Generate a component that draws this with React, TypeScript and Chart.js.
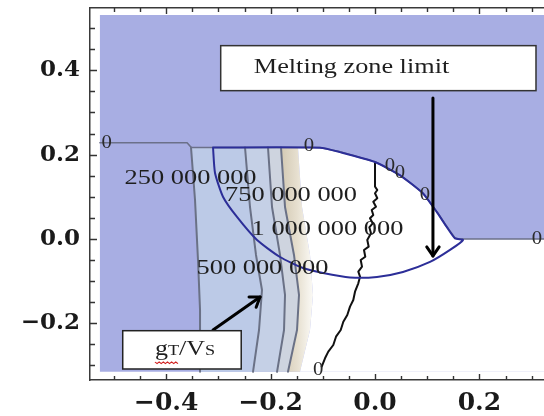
import React, { useEffect, useRef } from 'react';
import { Chart, registerables } from 'chart.js';

Chart.register(...registerables);

type P = { x: number; y: number };

// axis ticks and ranges
const xTicks = [-0.4, -0.2, 0.0, 0.2];
const yTicks = [-0.2, 0.0, 0.2, 0.4];
const xRange = [-0.546, 0.3544];
const yRange = [-0.3344, 0.5477];
const fieldX = [-0.527, 0.4];
const fieldY = [-0.315, 0.531];

// contour lines of gT/Vs
const contour250: P[] = [
  { x: -0.3525, y: 0.217 }, { x: -0.3448, y: 0.0925 }, { x: -0.3391, y: -0.0498 },
  { x: -0.3352, y: -0.1684 }, { x: -0.3352, y: -0.315 },
];
const contour500: P[] = [
  { x: -0.249, y: 0.217 }, { x: -0.2395, y: 0.0759 }, { x: -0.228, y: -0.0379 },
  { x: -0.2165, y: -0.1209 }, { x: -0.2222, y: -0.2158 }, { x: -0.2337, y: -0.315 },
];
const contour750: P[] = [
  { x: -0.205, y: 0.217 }, { x: -0.1973, y: 0.0759 }, { x: -0.182, y: -0.0379 },
  { x: -0.1724, y: -0.1328 }, { x: -0.1743, y: -0.2158 }, { x: -0.1877, y: -0.315 },
];
const contour1000: P[] = [
  { x: -0.1801, y: 0.217 }, { x: -0.1724, y: 0.0759 }, { x: -0.1552, y: -0.0379 },
  { x: -0.1456, y: -0.1328 }, { x: -0.1494, y: -0.2158 }, { x: -0.1667, y: -0.315 },
];
const beigeEdge: P[] = [
  { x: -0.1475, y: 0.217 }, { x: -0.1398, y: 0.0759 }, { x: -0.1245, y: -0.0379 },
  { x: -0.1188, y: -0.1328 }, { x: -0.1245, y: -0.2158 }, { x: -0.1437, y: -0.315 },
];

// zero contour
const zeroLeft: P[] = [{ x: -0.527, y: 0.228 }, { x: -0.36, y: 0.228 }, { x: -0.352, y: 0.217 }];
const zeroArc: P[] = [
  { x: -0.1054, y: 0.217 }, { x: -0.067, y: 0.207 }, { x: 0, y: 0.1833 }, { x: 0.0479, y: 0.1518 },
  { x: 0.092, y: 0.109 }, { x: 0.1188, y: 0.064 }, { x: 0.138, y: 0.0285 }, { x: 0.1533, y: 0.0024 },
];
const zeroRight: P[] = [{ x: 0.16, y: 0 }, { x: 0.4, y: 0 }];

// melting zone limit
const meltTop: P[] = [
  { x: -0.3103, y: 0.217 }, { x: -0.1054, y: 0.2165 }, { x: -0.067, y: 0.206 }, { x: 0, y: 0.1825 },
  { x: 0.0479, y: 0.151 }, { x: 0.092, y: 0.108 }, { x: 0.1188, y: 0.063 }, { x: 0.138, y: 0.0275 },
  { x: 0.1533, y: 0.0015 }, { x: 0.1686, y: -0.0024 },
];
const meltBottom: P[] = [
  { x: 0.1437, y: -0.026 }, { x: 0.1054, y: -0.0545 }, { x: 0.0536, y: -0.0783 }, { x: 0.0038, y: -0.0901 },
  { x: -0.0479, y: -0.0913 }, { x: -0.0996, y: -0.0806 }, { x: -0.138, y: -0.0688 }, { x: -0.182, y: -0.0427 },
  { x: -0.226, y: -0.0024 }, { x: -0.2644, y: 0.0522 }, { x: -0.291, y: 0.0996 }, { x: -0.3065, y: 0.1565 },
  { x: -0.3103, y: 0.217 },
];

// jagged black line
const blackLine: P[] = [
  { x: 0.0, y: 0.1795 }, { x: 0.0, y: 0.124 }, { x: 0.0044, y: 0.1162 }, { x: 0.0, y: 0.1084 },
  { x: 0.0044, y: 0.0965 }, { x: -0.0033, y: 0.0885 }, { x: 0.0019, y: 0.0766 }, { x: -0.0063, y: 0.0688 },
  { x: -0.0033, y: 0.0569 }, { x: -0.0096, y: 0.0491 }, { x: -0.0044, y: 0.0372 }, { x: -0.0109, y: 0.0277 },
  { x: -0.0077, y: 0.0135 }, { x: -0.0148, y: -0.0024 }, { x: -0.0121, y: -0.0183 }, { x: -0.0211, y: -0.0261 },
  { x: -0.0186, y: -0.042 }, { x: -0.0274, y: -0.0498 }, { x: -0.0249, y: -0.0657 }, { x: -0.032, y: -0.0775 },
  { x: -0.0287, y: -0.0894 }, { x: -0.032, y: -0.1051 }, { x: -0.0383, y: -0.125 }, { x: -0.0416, y: -0.1447 },
  { x: -0.0479, y: -0.1605 }, { x: -0.0531, y: -0.1802 }, { x: -0.0607, y: -0.1961 }, { x: -0.0657, y: -0.2158 },
  { x: -0.0747, y: -0.2317 }, { x: -0.0799, y: -0.2514 }, { x: -0.0895, y: -0.2672 }, { x: -0.0958, y: -0.2829 },
  { x: -0.1021, y: -0.3028 },
];

// labels
const contourLabels = [
  { text: '250 000 000', x: -0.3534, y: 0.1439 },
  { text: '750 000 000', x: -0.1609, y: 0.102 },
  { text: '1 000 000 000', x: -0.091, y: 0.0213 },
  { text: '500 000 000', x: -0.2155, y: -0.07 },
];
const zeroLabels: P[] = [
  { x: -0.514, y: 0.227 }, { x: -0.1264, y: 0.2205 }, { x: 0.0287, y: 0.1715 }, { x: 0.0479, y: 0.1558 },
  { x: 0.0958, y: 0.1043 }, { x: 0.3103, y: 0 }, { x: -0.109, y: -0.311 },
];
const meltBoxX = [-0.2956, 0.3084];
const meltBoxY = [0.3517, 0.4584];
const meltText = { text: 'Melting zone limit', x: -0.045, y: 0.3943 };
const meltArrow: P[] = [{ x: 0.111, y: 0.3344 }, { x: 0.111, y: -0.0403 }];
const gBoxX = [-0.4833, -0.2563];
const gBoxY = [-0.3083, -0.2175];
const gText = { x: -0.4215, y: -0.2751 };
const gArrow: P[] = [{ x: -0.3103, y: -0.2158 }, { x: -0.2203, y: -0.1375 }];

const rev = (a: P[]) => a.slice().reverse();
const band = (a: P[], b: P[]) => [...a, ...rev(b)];
const fieldRect: P[] = [
  { x: fieldX[0], y: fieldY[0] }, { x: fieldX[1], y: fieldY[0] },
  { x: fieldX[1], y: fieldY[1] }, { x: fieldX[0], y: fieldY[1] },
];
const whiteRegion: P[] = [
  ...beigeEdge, { x: fieldX[1], y: fieldY[0] }, ...rev(zeroRight), ...rev(zeroArc),
];

const fmt = (v: number) => (v < 0 ? '\u2212' : '') + Math.abs(v).toFixed(1);

function stretchText(ctx: CanvasRenderingContext2D, text: string, x: number, y: number, font: string,
  sx: number, align: CanvasTextAlign = 'center', baseline: CanvasTextBaseline = 'middle', color = '#1e1e1e') {
  ctx.save();
  ctx.translate(x, y);
  ctx.scale(sx, 1);
  ctx.font = font;
  ctx.fillStyle = color;
  ctx.textAlign = align;
  ctx.textBaseline = baseline;
  ctx.fillText(text, 0, 0);
  ctx.restore();
}

function arrow(ctx: CanvasRenderingContext2D, x0: number, y0: number, x1: number, y1: number, w: number, head: number) {
  const a = Math.atan2(y1 - y0, x1 - x0);
  ctx.save();
  ctx.strokeStyle = '#000';
  ctx.lineWidth = w;
  ctx.lineCap = 'round';
  ctx.lineJoin = 'round';
  ctx.beginPath();
  ctx.moveTo(x0, y0);
  ctx.lineTo(x1, y1);
  ctx.stroke();
  ctx.beginPath();
  ctx.moveTo(x1 - head * Math.cos(a - 0.6), y1 - head * Math.sin(a - 0.6));
  ctx.lineTo(x1, y1);
  ctx.lineTo(x1 - head * Math.cos(a + 0.6), y1 - head * Math.sin(a + 0.6));
  ctx.stroke();
  ctx.restore();
}

const annotations = {
  id: 'annotations',
  afterDatasetsDraw(chart: any) {
    const { ctx, scales } = chart;
    const px = (v: number) => scales.x.getPixelForValue(v);
    const py = (v: number) => scales.y.getPixelForValue(v);
    ctx.save();
    const area = chart.chartArea;
    ctx.beginPath();
    ctx.rect(area.left, area.top, area.right - area.left, area.bottom - area.top);
    ctx.clip();

    contourLabels.forEach((l) =>
      stretchText(ctx, l.text, px(l.x), py(l.y), "20px 'Liberation Serif'", 1.32));
    zeroLabels.forEach((p) =>
      stretchText(ctx, '0', px(p.x), py(p.y), "18px 'Liberation Serif'", 1.15, 'center', 'middle', '#2a2a2a'));

    // arrows
    arrow(ctx, px(meltArrow[0].x), py(meltArrow[0].y), px(meltArrow[1].x), py(meltArrow[1].y), 3, 11);
    arrow(ctx, px(gArrow[0].x), py(gArrow[0].y), px(gArrow[1].x), py(gArrow[1].y), 3, 11);

    // melting box
    const mx0 = px(meltBoxX[0]), mx1 = px(meltBoxX[1]);
    const my0 = py(meltBoxY[1]), my1 = py(meltBoxY[0]);
    ctx.fillStyle = '#ffffff';
    ctx.fillRect(mx0, my0, mx1 - mx0, my1 - my0);
    ctx.strokeStyle = '#333';
    ctx.lineWidth = 1.5;
    ctx.strokeRect(mx0, my0, mx1 - mx0, my1 - my0);
    stretchText(ctx, meltText.text, px(meltText.x), py(meltText.y), "21px 'Liberation Serif'", 1.25, 'center', 'alphabetic');

    // gT/Vs box
    const gx0 = px(gBoxX[0]), gx1 = px(gBoxX[1]);
    const gy0 = py(gBoxY[1]), gy1 = py(gBoxY[0]);
    ctx.fillStyle = '#ffffff';
    ctx.fillRect(gx0, gy0, gx1 - gx0, gy1 - gy0);
    ctx.strokeStyle = '#222';
    ctx.lineWidth = 1.5;
    ctx.strokeRect(gx0, gy0, gx1 - gx0, gy1 - gy0);

    ctx.save();
    ctx.translate(px(gText.x), py(gText.y));
    ctx.scale(1.3, 1);
    ctx.fillStyle = '#1e1e1e';
    ctx.textBaseline = 'alphabetic';
    ctx.textAlign = 'left';
    const parts: [string, number][] = [['g', 20], ['T', 14], ['/V', 20], ['S', 14]];
    let off = 0;
    let squiggleEnd = 0;
    parts.forEach(([t, s], i) => {
      ctx.font = `${s}px 'Liberation Serif'`;
      ctx.fillText(t, off, 0);
      off += ctx.measureText(t).width;
      if (i === 1) squiggleEnd = off;
    });
    ctx.strokeStyle = '#d02020';
    ctx.lineWidth = 1;
    ctx.beginPath();
    for (let sxp = 0, k = 0; sxp <= squiggleEnd; sxp += 1.6, k++) {
      const yy = 7 + (k % 2 === 0 ? 0 : 1.6);
      if (k === 0) ctx.moveTo(sxp, yy); else ctx.lineTo(sxp, yy);
    }
    ctx.stroke();
    ctx.restore();

    ctx.restore();
  },
};

const frameTicks = {
  id: 'frameTicks',
  afterDatasetsDraw(chart: any) {
    const { ctx, chartArea, scales } = chart;
    const { left, top, bottom } = chartArea;
    ctx.save();
    ctx.strokeStyle = '#333';
    ctx.lineWidth = 1.4;
    const isMajor = (v: number) => Math.abs(v / 0.2 - Math.round(v / 0.2)) < 1e-6;
    ctx.beginPath();
    for (let k = Math.ceil(xRange[0] / 0.05); k * 0.05 <= xRange[1] + 1e-9; k++) {
      const v = k * 0.05;
      const p = Math.round(scales.x.getPixelForValue(v)) + 0.5;
      const len = isMajor(v) ? 6 : 4;
      ctx.moveTo(p, bottom); ctx.lineTo(p, bottom - len);
      ctx.moveTo(p, top); ctx.lineTo(p, top + len);
    }
    for (let k = Math.ceil(yRange[0] / 0.05); k * 0.05 <= yRange[1] + 1e-9; k++) {
      const v = k * 0.05;
      const p = Math.round(scales.y.getPixelForValue(v)) + 0.5;
      const len = isMajor(v) ? 7 : 5;
      ctx.moveTo(left, p); ctx.lineTo(left + len, p);
    }
    ctx.stroke();
    ctx.restore();
  },
};

function fillSet(data: P[], color: any) {
  return {
    data, backgroundColor: color, borderColor: 'rgba(0,0,0,0)', borderWidth: 0,
    fill: 'shape', pointRadius: 0, tension: 0,
  };
}
function lineSet(data: P[], color: string, width: number, tension = 0) {
  return {
    data, borderColor: color, borderWidth: width, fill: false, pointRadius: 0, tension,
    borderJoinStyle: 'round', borderCapStyle: 'round',
  };
}

const noPadding = (s: any) => {
  s.paddingTop = 0; s.paddingBottom = 0; s.paddingLeft = 0; s.paddingRight = 0;
};

export default function App() {
  const ref = useRef<HTMLCanvasElement>(null);
  useEffect(() => {
    const canvas = ref.current!;
    const beigeGradient = (c: any) => {
      const chart = c.chart;
      if (!chart.chartArea) return '#e0d8c6';
      const xs = chart.scales.x;
      const x0 = xs.getPixelForValue(Math.min(...contour1000.map((p) => p.x)));
      const x1 = xs.getPixelForValue(Math.max(...beigeEdge.map((p) => p.x)));
      const g = chart.ctx.createLinearGradient(x0, 0, x1, 0);
      g.addColorStop(0, '#d3c9b3');
      g.addColorStop(0.5, '#e6dfcf');
      g.addColorStop(1, '#fbfaf6');
      return g;
    };
    const datasets: any[] = [
      fillSet(fieldRect, '#a8aee3'),
      fillSet(band(contour250, contour500), '#bccae7'),
      fillSet(band(contour500, contour750), '#c5d0e6'),
      fillSet(band(contour750, contour1000), '#ced4df'),
      fillSet(band(contour1000, beigeEdge), beigeGradient),
      fillSet(whiteRegion, '#ffffff'),
      lineSet(contour250, '#6a7186', 2),
      lineSet(contour500, '#6a7186', 2),
      lineSet(contour750, '#6a7186', 2),
      lineSet(contour1000, '#6a7186', 2),
      lineSet([...zeroLeft, ...zeroArc, ...zeroRight], '#6b7089', 1.6),
      lineSet(blackLine, '#111111', 2),
      lineSet([...meltTop, ...meltBottom], '#2c2e98', 2, 0.2),
    ];
    const n = datasets.length;
    datasets.forEach((d, i) => { d.order = n - i; });

    const tickFont = (size: number) => ({ family: "'DejaVu Serif', serif", weight: 'bold' as const, size });
    const chart = new Chart(canvas, {
      type: 'line',
      data: { datasets },
      plugins: [annotations, frameTicks],
      options: {
        responsive: false,
        animation: false,
        devicePixelRatio: 1,
        events: [],
        layout: { padding: 0 },
        plugins: { legend: { display: false }, tooltip: { enabled: false } },
        scales: {
          x: {
            type: 'linear', position: 'bottom', min: xRange[0], max: xRange[1],
            grid: { display: false, drawTicks: false },
            border: { display: true, color: '#3a3a3a', width: 1.5 },
            ticks: {
              padding: 8, maxRotation: 0, autoSkip: false, color: '#1a1a1a', font: tickFont(25),
              callback: (v: any) => fmt(Number(v)),
            },
            afterBuildTicks: (s: any) => { s.ticks = xTicks.map((v) => ({ value: v })); },
            afterFit: (s: any) => { s.height = 36; noPadding(s); },
          },
          x2: {
            type: 'linear', position: 'top', min: xRange[0], max: xRange[1],
            grid: { display: false, drawTicks: false },
            border: { display: true, color: '#3a3a3a', width: 1.5 },
            ticks: { display: false },
            afterFit: (s: any) => { s.height = 8; noPadding(s); },
          },
          y: {
            type: 'linear', position: 'left', min: yRange[0], max: yRange[1],
            grid: { display: false, drawTicks: false },
            border: { display: true, color: '#3a3a3a', width: 1.5 },
            ticks: {
              padding: 10, color: '#1a1a1a', font: tickFont(23),
              callback: (v: any) => fmt(Number(v)),
            },
            afterBuildTicks: (s: any) => { s.ticks = yTicks.map((v) => ({ value: v })); },
            afterFit: (s: any) => { s.width = 90; noPadding(s); },
          },
        },
      } as any,
    });
    return () => chart.destroy();
  }, []);

  return (
    <div style={{ position: 'fixed', left: 0, top: 0, width: 544, height: 416, overflow: 'hidden', background: '#fff' }}>
      <div style={{ width: 560, height: 416 }}>
        <canvas ref={ref} width={560} height={416} style={{ display: 'block' }} />
      </div>
    </div>
  );
}
